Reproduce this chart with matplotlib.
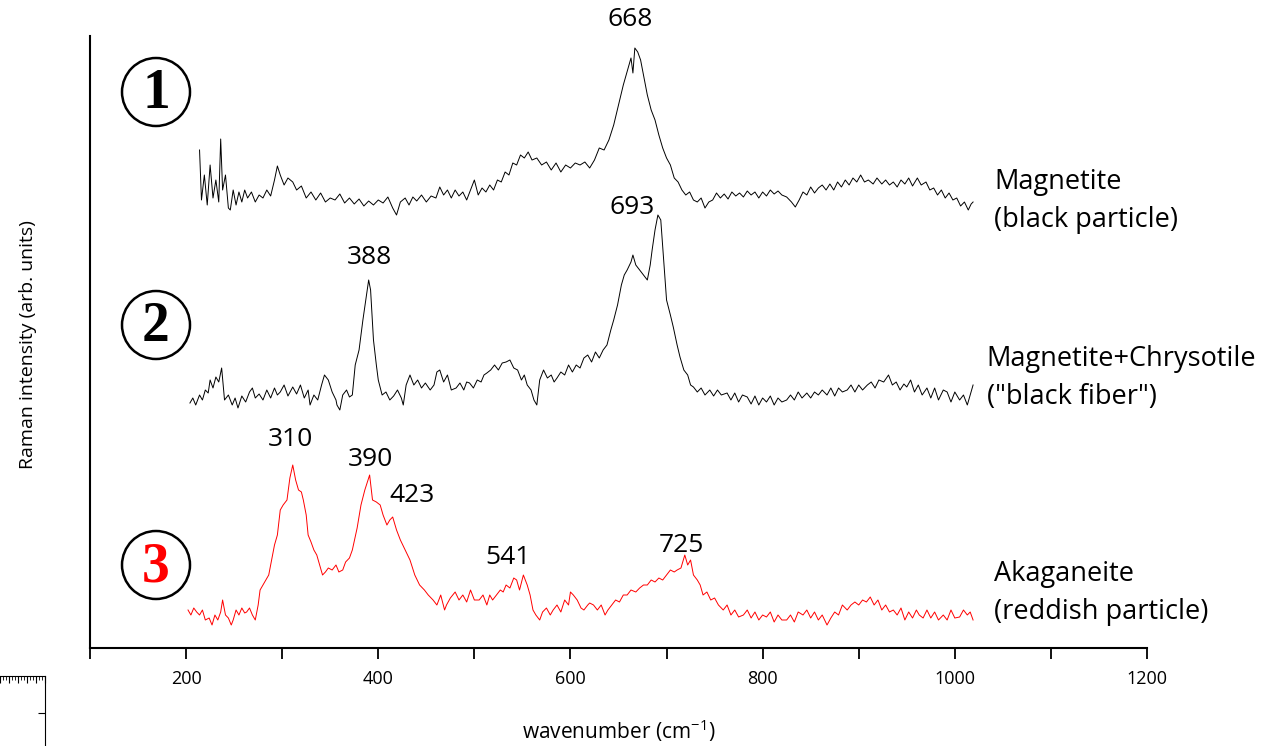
import matplotlib
matplotlib.use('Agg')
import matplotlib.pyplot as plt
from matplotlib.patches import Ellipse
import numpy as np

plt.rcParams['font.family'] = ['Open Sans', 'DejaVu Sans']
plt.rcParams['mathtext.fontset'] = 'custom'
plt.rcParams['mathtext.rm'] = 'Open Sans'
plt.rcParams['mathtext.it'] = 'Open Sans'

# Spectrum 1 - Magnetite (black particle)
wn_1 = [214, 216, 219, 222, 225, 228, 231, 234, 236, 238, 241, 244, 246, 249, 252, 255, 258, 261, 264, 268,
        272, 276, 280, 284, 288, 292, 295, 298, 302, 306, 311, 315, 320, 325, 330, 335, 340, 345, 350, 355,
        360, 365, 370, 375, 380, 385, 390, 395, 400, 405, 410, 415, 419, 423, 428, 432, 436, 440, 445, 450,
        455, 460, 464, 468, 472, 476, 480, 484, 488, 492, 496, 500, 504, 508, 512, 516, 520, 524, 528, 532,
        536, 540, 544, 548, 552, 556, 560, 565, 570, 575, 580, 585, 590, 595, 600, 605, 610, 615, 620, 625,
        630, 635, 640, 645, 650, 655, 660, 663, 665, 667, 670, 673, 676, 680, 684, 688, 692, 696, 700, 704,
        708, 712, 716, 720, 724, 728, 732, 736, 740, 744, 748, 752, 756, 760, 764, 768, 772, 776, 780, 784,
        788, 792, 796, 800, 804, 808, 812, 816, 820, 825, 830, 834, 838, 842, 846, 850, 854, 858, 862, 866,
        870, 874, 878, 882, 886, 890, 894, 898, 902, 906, 910, 915, 919, 924, 928, 932, 936, 940, 944, 948,
        952, 956, 961, 965, 970, 974, 978, 982, 986, 990, 994, 998, 1002, 1006, 1010, 1014, 1017, 1019]
int_1 = [70, 20, 45, 15, 55, 22, 40, 18, 81, 30, 45, 12, 10, 30, 15, 28, 18, 30, 22, 28,
         18, 25, 22, 30, 24, 40, 54, 45, 35, 42, 38, 30, 34, 22, 28, 20, 27, 18, 22, 20,
         26, 17, 22, 16, 21, 14, 19, 15, 20, 17, 23, 12, 5, 18, 22, 15, 23, 19, 25, 18,
         24, 22, 33, 25, 30, 22, 30, 24, 28, 20, 30, 40, 25, 32, 28, 35, 30, 40, 38, 48,
         45, 57, 55, 65, 62, 68, 60, 62, 55, 58, 50, 57, 48, 55, 52, 57, 55, 58, 52, 60,
         72, 70, 80, 95, 115, 135, 152, 162, 147, 172, 168, 160, 145, 125, 110, 100, 85, 72, 62, 55,
         42, 38, 30, 25, 28, 20, 18, 22, 12, 18, 20, 27, 22, 26, 21, 28, 24, 27, 23, 29,
         25, 28, 22, 28, 24, 30, 26, 29, 25, 23, 18, 13, 20, 28, 25, 33, 27, 32, 35, 30,
         36, 30, 38, 33, 40, 35, 42, 38, 45, 38, 40, 36, 42, 36, 40, 35, 38, 33, 40, 36,
         42, 34, 42, 35, 38, 30, 32, 25, 30, 22, 27, 20, 22, 14, 18, 10, 16, 18]

# Spectrum 2 - Magnetite+Chrysotile ("black fiber")
wn_2 = [204, 207, 210, 214, 217, 220, 223, 225, 228, 231, 234, 237, 240, 244, 248, 251, 254, 258, 262, 266,
        269, 272, 276, 280, 284, 288, 292, 295, 298, 302, 306, 311, 315, 319, 323, 327, 329, 333, 337, 341,
        344, 348, 352, 356, 357, 360, 363, 367, 370, 373, 376, 380, 384, 387, 390, 392, 395, 398, 400, 404,
        408, 412, 416, 420, 424, 426, 429, 433, 437, 441, 445, 449, 454, 458, 461, 464, 468, 472, 476, 481,
        485, 489, 492, 495, 499, 503, 507, 510, 513, 517, 521, 525, 529, 533, 537, 541, 545, 549, 552, 555,
        559, 562, 565, 568, 572, 576, 580, 583, 586, 590, 594, 598, 602, 606, 610, 614, 618, 622, 626, 630,
        634, 638, 642, 645, 649, 653, 656, 659, 663, 665, 668, 672, 676, 680, 683, 685, 688, 691, 694, 697,
        700, 704, 707, 711, 714, 718, 722, 725, 728, 732, 736, 740, 745, 749, 753, 757, 763, 767, 771, 775,
        779, 784, 788, 792, 796, 800, 804, 808, 812, 816, 820, 825, 829, 833, 837, 841, 846, 850, 854, 858,
        862, 867, 871, 875, 879, 883, 888, 892, 896, 900, 904, 909, 913, 917, 921, 926, 931, 935, 939, 943,
        947, 950, 954, 958, 962, 966, 971, 975, 979, 983, 988, 992, 996, 1000, 1005, 1009, 1013, 1016, 1019]
int_2 = [7, 12, 5, 15, 10, 20, 17, 30, 22, 33, 28, 42, 10, 15, 5, 12, 2, 14, 8, 18,
         22, 12, 16, 10, 20, 12, 22, 15, 18, 25, 14, 23, 16, 25, 12, 20, 5, 15, 10, 25,
         35, 30, 18, 10, 5, 0, 15, 20, 13, 15, 45, 60, 90, 110, 130, 120, 70, 45, 30, 15,
         18, 10, 14, 20, 12, 5, 25, 35, 25, 30, 22, 27, 20, 25, 38, 40, 28, 35, 20, 22,
         27, 20, 28, 27, 22, 30, 28, 35, 37, 40, 45, 40, 47, 48, 50, 42, 40, 30, 35, 25,
         20, 10, 5, 30, 40, 32, 35, 28, 32, 38, 35, 45, 38, 45, 42, 52, 55, 48, 58, 52,
         60, 65, 80, 90, 105, 125, 135, 140, 148, 155, 145, 140, 135, 130, 145, 160, 180, 195, 190, 150,
         110, 95, 83, 65, 53, 40, 35, 25, 23, 18, 22, 15, 20, 14, 20, 15, 17, 10, 17, 8,
         15, 13, 6, 14, 5, 12, 8, 14, 5, 12, 8, 10, 15, 10, 18, 12, 17, 12, 18, 15,
         20, 15, 22, 14, 22, 18, 20, 25, 18, 25, 20, 25, 28, 22, 30, 28, 35, 25, 28, 20,
         26, 23, 30, 18, 25, 15, 22, 12, 22, 10, 20, 18, 8, 18, 10, 15, 5, 15, 25]

# Spectrum 3 - Akaganeite (reddish particle)
wn_3 = [202, 205, 208, 211, 214, 217, 220, 224, 227, 230, 233, 236, 238, 241, 244, 247, 249, 252, 255, 258,
        261, 263, 266, 269, 272, 275, 277, 280, 283, 286, 289, 292, 295, 298, 301, 305, 308, 311, 314, 317,
        320, 322, 325, 327, 330, 333, 336, 339, 342, 345, 348, 352, 356, 359, 363, 366, 370, 373, 378, 382,
        386, 391, 394, 398, 402, 405, 409, 412, 415, 419, 423, 428, 433, 438, 443, 448, 452, 457, 461, 465,
        469, 471, 475, 480, 484, 488, 492, 496, 500, 505, 509, 513, 516, 519, 523, 527, 530, 533, 537, 541,
        544, 547, 551, 555, 558, 561, 564, 568, 571, 575, 579, 582, 586, 590, 594, 598, 600, 603, 607, 611,
        614, 618, 620, 624, 628, 632, 636, 639, 643, 647, 651, 655, 659, 663, 668, 672, 676, 680, 684, 688,
        692, 696, 700, 704, 708, 711, 715, 719, 722, 725, 728, 732, 735, 738, 742, 746, 750, 754, 759, 763,
        767, 771, 775, 780, 784, 788, 792, 796, 800, 804, 808, 812, 816, 820, 825, 829, 833, 837, 842, 846,
        850, 854, 858, 862, 867, 871, 875, 879, 883, 888, 892, 896, 900, 904, 908, 912, 916, 920, 924, 928,
        932, 936, 940, 944, 948, 952, 956, 960, 963, 967, 971, 975, 979, 983, 988, 992, 996, 1000, 1005, 1009,
        1013, 1016, 1019]
int_3 = [20, 15, 22, 18, 15, 20, 10, 12, 5, 15, 10, 18, 30, 15, 12, 5, 10, 20, 15, 22,
         17, 18, 22, 15, 10, 25, 40, 45, 50, 55, 70, 85, 95, 120, 125, 130, 152, 165, 150, 140,
         138, 130, 115, 95, 88, 80, 75, 65, 55, 58, 62, 60, 65, 58, 60, 68, 72, 80, 102, 125,
         140, 155, 130, 128, 125, 115, 105, 110, 113, 100, 90, 80, 70, 55, 45, 40, 35, 30, 25, 35,
         20, 25, 32, 38, 30, 35, 28, 40, 30, 30, 35, 25, 35, 30, 35, 40, 38, 45, 42, 52,
         50, 40, 55, 45, 35, 20, 15, 10, 18, 22, 15, 20, 25, 18, 30, 25, 38, 35, 30, 22,
         20, 25, 27, 25, 20, 25, 15, 20, 25, 30, 28, 35, 35, 40, 38, 42, 45, 45, 50, 48,
         52, 50, 55, 60, 58, 60, 62, 75, 65, 70, 55, 50, 45, 35, 38, 30, 32, 25, 20, 25,
         15, 20, 13, 15, 20, 12, 18, 10, 15, 13, 18, 8, 15, 10, 10, 15, 8, 18, 15, 20,
         12, 18, 10, 15, 5, 12, 18, 15, 25, 20, 25, 28, 25, 30, 28, 33, 25, 30, 20, 25,
         18, 20, 15, 22, 10, 18, 12, 20, 15, 12, 20, 12, 18, 10, 15, 10, 20, 12, 13, 20,
         15, 18, 10]

offsets = [428, 238, 18]
colors = ['black', 'black', 'red']
names = ['Magnetite\n(black particle)', 'Magnetite+Chrysotile\n("black fiber")', 'Akaganeite\n(reddish particle)']
name_pos = [(1041, 447), (1033, 270), (1041, 55)]

# peak labels: (wavenumber, label height)
peak_pos = [(662, 628), (664, 441), (391, 391), (309, 209), (392, 189), (435, 152), (535, 90), (715, 103)]
peak_text = ['668', '693', '388', '310', '390', '423', '541', '725']

W, H = 1268, 746
fig = plt.figure(figsize=(W / 100, H / 100), dpi=100)
ax = fig.add_axes([90 / W, 1 - 648 / H, (1147 - 90) / W, (648 - 36) / H])

spectra = [(wn_1, int_1), (wn_2, int_2), (wn_3, int_3)]
for (wn, inten), off, c in zip(spectra, offsets, colors):
    ax.plot(wn, np.array(inten) + off, color=c, lw=0.7)

for (x, y), t in zip(peak_pos, peak_text):
    ax.text(x, y, t, ha='center', va='center', fontsize=19)

for (x, y), t in zip(name_pos, names):
    ax.text(x, y, t, ha='left', va='center', fontsize=19.5, linespacing=1.45)

ax.set_xlim(100, 1200)
ax.set_ylim(0, 612)
ax.set_xticks(range(200, 1201, 200))
ax.set_xticks(range(100, 1201, 100), minor=True)
ax.tick_params(axis='x', which='both', direction='out', length=8, width=1.3, labelsize=13, pad=8)
ax.set_yticks([])
ax.spines['top'].set_visible(False)
ax.spines['right'].set_visible(False)
ax.spines['left'].set_linewidth(1.5)
ax.spines['bottom'].set_linewidth(1.5)
ax.set_xlabel('wavenumber (cm$^{-1}$)', fontsize=15)
ax.xaxis.set_label_coords(0.5, -0.113)
ax.set_ylabel('Raman intensity (arb. units)', fontsize=14)
ax.yaxis.set_label_coords(-0.050, 0.495)

# circled sample numbers
circle_y = [92, 325, 565]
circle_col = ['black', 'black', 'red']
for i, (cy, cc) in enumerate(zip(circle_y, circle_col)):
    fig.add_artist(Ellipse((156 / W, 1 - cy / H), 68 / W, 68 / H, transform=fig.transFigure,
                           fill=False, ec='black', lw=1.8))
    fig.text(156 / W, 1 - (cy + 2) / H, str(i + 1), ha='center', va='center', color=cc,
             fontsize=40, fontweight='bold', family='Liberation Serif')

# leftover ruler fragment in the lower left corner
ax2 = fig.add_axes([0, 0, 45 / W, 70 / H])
ax2.set_facecolor('none')
for s in ['left', 'bottom']:
    ax2.spines[s].set_visible(False)
ax2.xaxis.tick_top()
ax2.yaxis.tick_right()
ax2.set_xlim(0, 45)
ax2.set_ylim(0, 70)
ax2.set_xticks(range(0, 46, 9))
ax2.set_xticks(range(0, 46, 3), minor=True)
ax2.set_yticks([33])
ax2.tick_params(direction='in', length=5, labeltop=False, labelright=False)
ax2.tick_params(which='minor', direction='in', length=3)

fig.savefig('out.png', dpi=100)
